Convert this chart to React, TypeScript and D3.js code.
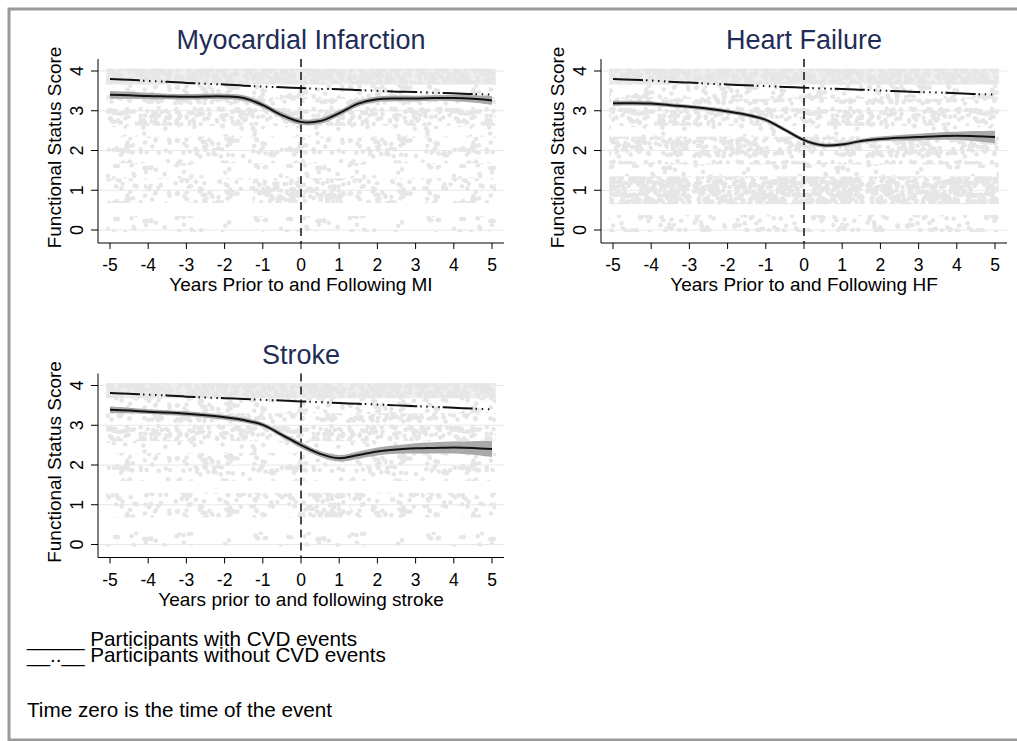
import React from 'react';
import * as d3 from 'd3';

// ---------- data ----------
const YEARS = [-5, -4.5, -4, -3.5, -3, -2.5, -2, -1.5, -1, -0.5, 0, 0.5, 1, 1.5, 2, 2.5, 3, 3.5, 4, 4.5, 5];
const X_TICKS = [-5, -4, -3, -2, -1, 0, 1, 2, 3, 4, 5];
const Y_TICKS = [0, 1, 2, 3, 4];

const MI_CVD = [3.40, 3.39, 3.37, 3.36, 3.35, 3.36, 3.36, 3.32, 3.14, 2.89, 2.72, 2.74, 2.94, 3.18, 3.29, 3.31, 3.31, 3.32, 3.32, 3.30, 3.26];
const MI_CI = [0.10, 0.09, 0.08, 0.07, 0.07, 0.07, 0.07, 0.07, 0.07, 0.07, 0.07, 0.07, 0.07, 0.07, 0.07, 0.07, 0.07, 0.07, 0.08, 0.09, 0.11];
const MI_NON = [3.80, 3.78, 3.75, 3.73, 3.70, 3.68, 3.66, 3.63, 3.61, 3.59, 3.57, 3.55, 3.54, 3.52, 3.50, 3.48, 3.47, 3.45, 3.44, 3.42, 3.41];

const HF_CVD = [3.19, 3.19, 3.18, 3.14, 3.10, 3.05, 2.98, 2.90, 2.77, 2.52, 2.26, 2.13, 2.15, 2.24, 2.29, 2.32, 2.34, 2.36, 2.37, 2.36, 2.34];
const HF_CI = [0.07, 0.06, 0.06, 0.05, 0.05, 0.05, 0.05, 0.05, 0.05, 0.05, 0.05, 0.05, 0.05, 0.05, 0.06, 0.07, 0.08, 0.09, 0.10, 0.13, 0.16];
const HF_NON = [3.80, 3.78, 3.76, 3.73, 3.71, 3.68, 3.66, 3.64, 3.62, 3.60, 3.58, 3.56, 3.55, 3.53, 3.51, 3.49, 3.47, 3.46, 3.44, 3.42, 3.41];

const STROKE_CVD = [3.39, 3.37, 3.34, 3.32, 3.29, 3.25, 3.20, 3.13, 3.01, 2.76, 2.50, 2.28, 2.17, 2.25, 2.34, 2.39, 2.42, 2.43, 2.44, 2.43, 2.40];
const STROKE_CI = [0.08, 0.07, 0.06, 0.06, 0.06, 0.06, 0.06, 0.06, 0.06, 0.06, 0.07, 0.07, 0.08, 0.09, 0.10, 0.11, 0.13, 0.14, 0.15, 0.17, 0.20];
const STROKE_NON = [3.81, 3.79, 3.77, 3.75, 3.72, 3.70, 3.68, 3.66, 3.64, 3.62, 3.60, 3.58, 3.56, 3.54, 3.52, 3.50, 3.48, 3.46, 3.44, 3.42, 3.40];

// scatter density bands (value range, year range, density class)
const MI_BANDS = [
  { lo: 3.66, hi: 4.06, x0: -5.1, x1: 5.1, d: 'dense' },
  { lo: 3.3, hi: 3.66, x0: -5.1, x1: 5.1, d: 'sparse' },
  { lo: 2.62, hi: 3.3, x0: -5.1, x1: 5.1, d: 'medium' },
  { lo: 2.35, hi: 2.62, x0: -5.1, x1: 5.1, d: 'vsparse' },
  { lo: 1.68, hi: 2.35, x0: -5.1, x1: 5.1, d: 'sparse' },
  { lo: 1.3, hi: 1.68, x0: -5.1, x1: 5.1, d: 'vsparse' },
  { lo: 0.68, hi: 1.3, x0: -5.1, x1: -1.2, d: 'sparse' },
  { lo: 0.68, hi: 1.3, x0: -1.2, x1: 1.2, d: 'medium' },
  { lo: 0.68, hi: 1.3, x0: 1.2, x1: 5.1, d: 'sparse' },
  { lo: -0.05, hi: 0.35, x0: -5.1, x1: 5.1, d: 'vsparse' },
];
const HF_BANDS = [
  { lo: 3.66, hi: 4.06, x0: -5.1, x1: 5.1, d: 'dense' },
  { lo: 3.3, hi: 3.66, x0: -5.1, x1: 5.1, d: 'sparse' },
  { lo: 2.62, hi: 3.3, x0: -5.1, x1: 5.1, d: 'medium' },
  { lo: 2.35, hi: 2.62, x0: -5.1, x1: 5.1, d: 'vsparse' },
  { lo: 1.65, hi: 2.35, x0: -5.1, x1: 5.1, d: 'medium' },
  { lo: 1.35, hi: 1.65, x0: -5.1, x1: 5.1, d: 'vsparse' },
  { lo: 0.65, hi: 1.35, x0: -5.1, x1: 5.1, d: 'heavy' },
  { lo: -0.05, hi: 0.38, x0: -5.1, x1: 5.1, d: 'sparse' },
];
const STROKE_BANDS = [
  { lo: 3.68, hi: 4.06, x0: -5.1, x1: 5.1, d: 'dense' },
  { lo: 3.3, hi: 3.68, x0: -5.1, x1: 5.1, d: 'sparse' },
  { lo: 2.6, hi: 3.3, x0: -5.1, x1: 5.1, d: 'medium' },
  { lo: 2.3, hi: 2.6, x0: -5.1, x1: 5.1, d: 'vsparse' },
  { lo: 1.6, hi: 2.3, x0: -5.1, x1: 5.1, d: 'sparse' },
  { lo: 0.68, hi: 1.3, x0: -5.1, x1: 0, d: 'sparse' },
  { lo: 0.68, hi: 1.3, x0: 0, x1: 1.3, d: 'medium' },
  { lo: 0.68, hi: 1.3, x0: 1.3, x1: 5.1, d: 'sparse' },
  { lo: -0.05, hi: 0.32, x0: -5.1, x1: 5.1, d: 'vsparse' },
];

const TITLES = ['Myocardial Infarction', 'Heart Failure', 'Stroke'];
const X_TITLES = ['Years Prior to and Following MI', 'Years Prior to and Following HF', 'Years prior to and following stroke'];
const Y_TITLE = 'Functional Status Score';
const LEGEND = ['_____ Participants with CVD events', '__..__ Participants without CVD events'];
const NOTE = 'Time zero is the time of the event';

// ---------- style / layout ----------
const FONT = "'Liberation Sans', Arial, Helvetica, sans-serif";
const TITLE_COLOR = '#1f2d56';
const GRID = '#e0eaee';
const DOT = '#e6e6e6';

const LAYOUT = [
  { x0: 110, x1: 492, y0: 230, y1: 71 },
  { x0: 613, x1: 995, y0: 230, y1: 71 },
  { x0: 110, x1: 492, y0: 544.5, y1: 385.5 },
];

const PANELS = [
  { title: TITLES[0], xTitle: X_TITLES[0], cvd: MI_CVD, ci: MI_CI, non: MI_NON, bands: MI_BANDS },
  { title: TITLES[1], xTitle: X_TITLES[1], cvd: HF_CVD, ci: HF_CI, non: HF_NON, bands: HF_BANDS },
  { title: TITLES[2], xTitle: X_TITLES[2], cvd: STROKE_CVD, ci: STROKE_CI, non: STROKE_NON, bands: STROKE_BANDS },
];

// texture tiles for the jittered-point background (a fill style, not data)
const TILE_W = 173, TILE_H = 53;
const TEXTURE: Record<string, { n: number; bg?: string }> = {
  dense: { n: 700, bg: '#efefef' },
  heavy: { n: 800 },
  medium: { n: 430 },
  sparse: { n: 200 },
  vsparse: { n: 85 },
};

function tileDots(n: number, seed: number) {
  const r = 2.3;
  const rnd = d3.randomLcg(seed / 10);
  return d3.range(n).map(() => ({
    cx: r + rnd() * (TILE_W - 2 * r),
    cy: r + rnd() * (TILE_H - 2 * r),
    r,
  }));
}

function Patterns() {
  return (
    <defs>
      {Object.keys(TEXTURE).map((k, ki) => (
        <pattern key={k} id={`pat-${k}`} patternUnits="userSpaceOnUse" width={TILE_W} height={TILE_H}>
          {TEXTURE[k].bg && <rect width={TILE_W} height={TILE_H} fill={TEXTURE[k].bg} />}
          {tileDots(TEXTURE[k].n, ki + 1).map((p, i) => (
            <circle key={i} cx={p.cx} cy={p.cy} r={p.r} fill={DOT} />
          ))}
        </pattern>
      ))}
    </defs>
  );
}

function Panel({ p, L }: { p: any; L: any }) {
  const x = d3.scaleLinear().domain([-5, 5]).range([L.x0, L.x1]);
  const y = d3.scaleLinear().domain([0, 4]).range([L.y0, L.y1]);
  const axL = x(-5) - 12;
  const axR = x(5) + 12;
  const axT = y(4) - 12;
  const axB = y(0) + 13;

  const line = d3
    .line<number>()
    .x((_, i) => x(YEARS[i]))
    .y((d) => y(d))
    .curve(d3.curveCatmullRom.alpha(0.5));
  const area = d3
    .area<number>()
    .x((_, i) => x(YEARS[i]))
    .y0((d, i) => y(d - p.ci[i]))
    .y1((d, i) => y(d + p.ci[i]))
    .curve(d3.curveCatmullRom.alpha(0.5));

  return (
    <g>
      {Y_TICKS.map((t) => (
        <line key={'g' + t} x1={axL} x2={axR} y1={y(t)} y2={y(t)} stroke={GRID} strokeWidth={1} />
      ))}
      {p.bands.map((b: any, i: number) => (
        <rect
          key={'b' + i}
          x={x(b.x0)}
          width={x(b.x1) - x(b.x0)}
          y={y(b.hi)}
          height={y(b.lo) - y(b.hi)}
          fill={`url(#pat-${b.d})`}
        />
      ))}
      <line x1={x(0)} x2={x(0)} y1={axT} y2={axB} stroke="#111" strokeWidth={1.5} strokeDasharray="8,5" />
      <path d={area(p.cvd) || ''} fill="#a9a9a9" />
      <path d={line(p.cvd) || ''} fill="none" stroke="#111" strokeWidth={2} />
      <path
        d={line(p.non) || ''}
        fill="none"
        stroke="#111"
        strokeWidth={2}
        strokeDasharray="30,3,1.5,4.5,1.5,4.5,1.5,4.5,1.5,3"
      />
      <line x1={axL} x2={axL} y1={axT} y2={axB} stroke="#000" strokeWidth={1} />
      <line x1={axL} x2={axR} y1={axB} y2={axB} stroke="#000" strokeWidth={1} />
      {Y_TICKS.map((t) => (
        <g key={'yt' + t}>
          <line x1={axL - 7} x2={axL} y1={y(t)} y2={y(t)} stroke="#000" />
          <text
            transform={`translate(${axL - 15},${y(t)}) rotate(-90)`}
            textAnchor="middle"
            fontSize={18}
            fill="#000"
          >
            {t}
          </text>
        </g>
      ))}
      {X_TICKS.map((t) => (
        <g key={'xt' + t}>
          <line x1={x(t)} x2={x(t)} y1={axB} y2={axB + 6} stroke="#000" />
          <text x={x(t)} y={axB + 28} textAnchor="middle" fontSize={17.5} fill="#000">
            {t}
          </text>
        </g>
      ))}
      <text x={x(0)} y={axB + 48} textAnchor="middle" fontSize={19} fill="#000">
        {p.xTitle}
      </text>
      <text
        transform={`translate(${axL - 37},${(y(0) + y(4)) / 2 - 3}) rotate(-90)`}
        textAnchor="middle"
        fontSize={19}
        fill="#000"
      >
        {Y_TITLE}
      </text>
      <text x={x(0)} y={y(4) - 22} textAnchor="middle" fontSize={27} fill={TITLE_COLOR}>
        {p.title}
      </text>
    </g>
  );
}

export default function App() {
  return (
    <svg width={1017} height={741} style={{ position: 'absolute', left: 0, top: 0, fontFamily: FONT }}>
      <Patterns />
      <rect x={0} y={0} width={1017} height={741} fill="#fff" />
      <rect x={9} y={9} width={1010} height={731} fill="#fff" stroke="#9a9a9a" strokeWidth={3} />
      {PANELS.map((p, i) => (
        <Panel key={i} p={p} L={LAYOUT[i]} />
      ))}
      {LEGEND.map((s, i) => (
        <text key={i} x={27} y={646 + i * 16} fontSize={20.7} fill="#000">
          {s}
        </text>
      ))}
      <text x={27} y={717} fontSize={20.7} fill="#000">
        {NOTE}
      </text>
    </svg>
  );
}
